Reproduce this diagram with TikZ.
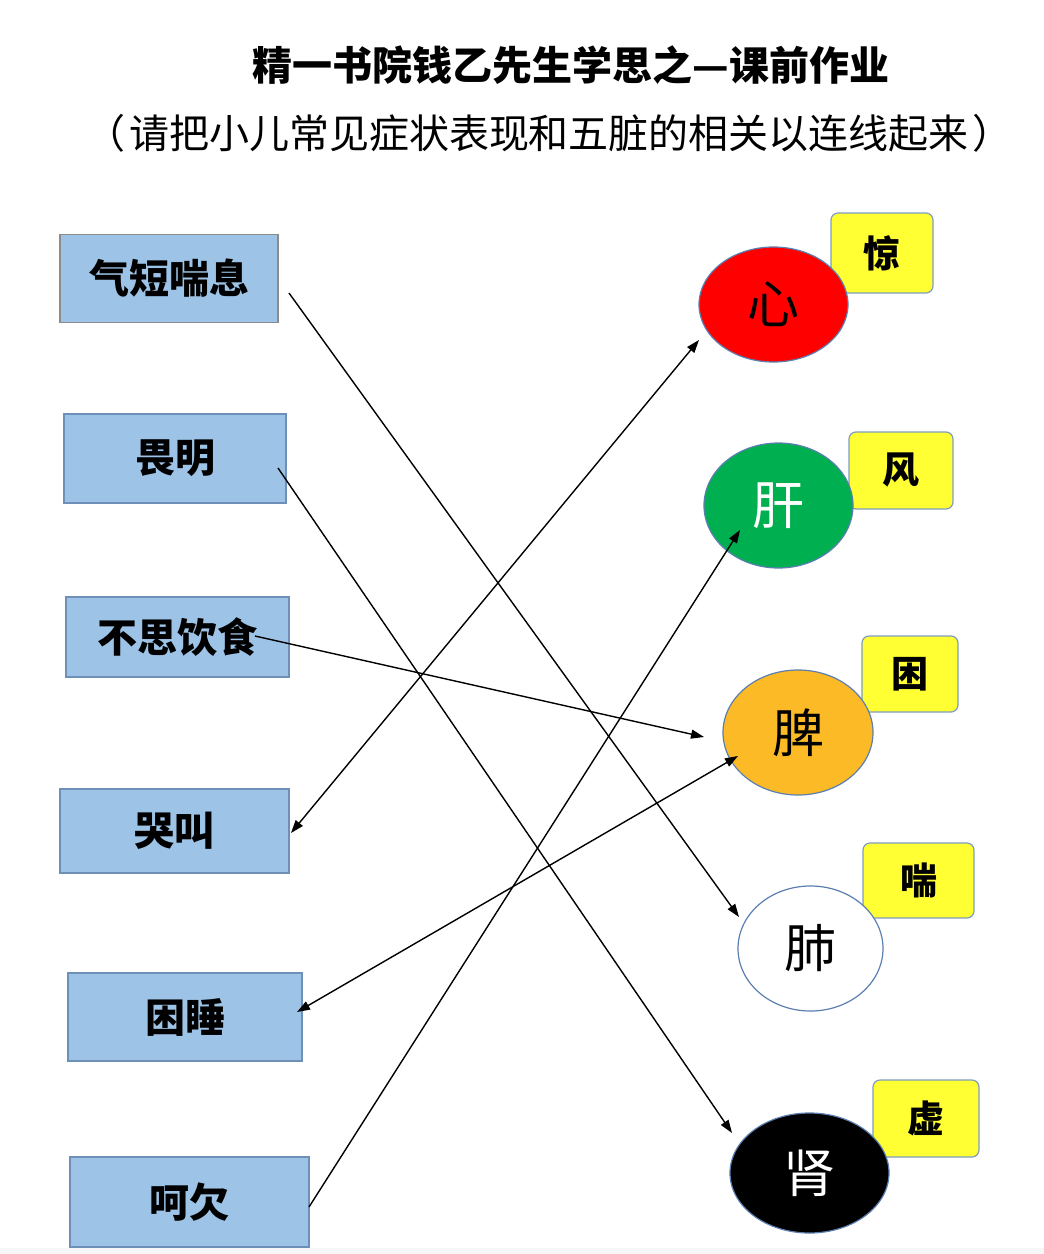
\documentclass[tikz,border=0pt]{standalone}
\usepackage{fontspec}
\newfontfamily\cjk{Noto Sans CJK SC}
\usetikzlibrary{shapes.geometric,arrows.meta}
\definecolor{boxblue}{HTML}{9DC3E6}
\definecolor{boxline}{HTML}{6E8FB8}
\definecolor{grayline}{HTML}{8C8C8C}
\definecolor{ylw}{HTML}{FFFF33}
\definecolor{ylwline}{HTML}{7E9DBF}
\definecolor{organred}{HTML}{FF0000}
\definecolor{organgreen}{HTML}{00B050}
\definecolor{organorange}{HTML}{FBBA26}
\definecolor{ellline}{HTML}{5B7FB0}
\tikzset{
  symbox/.style={draw=boxline, line width=1.2pt, fill=boxblue, inner sep=0pt,
    font=\cjk\bfseries\fontsize{40}{42}\selectfont},
  tagbox/.style={draw=ylwline, line width=1.2pt, fill=ylw, rounded corners=7pt, inner sep=0pt,
    font=\cjk\bfseries\fontsize{37}{39}\selectfont},
  organ/.style={ellipse, draw=ellline, line width=1.2pt, inner sep=0pt,
    font=\cjk\fontsize{52}{54}\selectfont},
  link/.style={black, line width=1.4pt, -{Triangle[length=13pt,width=9pt]}},
  link2/.style={black, line width=1.4pt, {Triangle[length=13pt,width=9pt]}-{Triangle[length=13pt,width=9pt]}}
}
\begin{document}
\begin{tikzpicture}[x=1pt,y=-1pt]
\useasboundingbox (0,0) rectangle (1044,1254);
\fill[white] (0,0) rectangle (1044,1254);
\fill[black!3] (0,1248) rectangle (1044,1254);
% titles
\node[font=\cjk\bfseries\fontsize{40}{42}\selectfont] (title) at (571,65) {精一书院钱乙先生学思之—课前作业};
\node[font=\cjk\fontsize{40}{42}\selectfont] (sub) at (549,133) {（\hspace{4pt}请把小儿常见症状表现和五脏的相关以连线起来\hspace{4pt}）};
% left boxes
\node[symbox, draw=grayline, minimum width=218pt, minimum height=88pt] (b1) at (169,278.5) {气短喘息};
\node[symbox, minimum width=222pt, minimum height=89pt] (b2) at (175,458.5) {畏明};
\node[symbox, minimum width=223pt, minimum height=80pt] (b3) at (177.5,637) {不思饮食};
\node[symbox, minimum width=229pt, minimum height=84pt] (b4) at (174.5,831) {哭叫};
\node[symbox, minimum width=234pt, minimum height=88pt] (b5) at (185,1017) {困睡};
\node[symbox, minimum width=239pt, minimum height=90pt] (b6) at (189.5,1202) {呵欠};
% tag boxes
\node[tagbox, minimum width=102pt, minimum height=80pt] (t1) at (882,253) {惊};
\node[tagbox, minimum width=104pt, minimum height=77pt] (t2) at (901,470.5) {风};
\node[tagbox, minimum width=96pt, minimum height=76pt] (t3) at (910,674) {困};
\node[tagbox, minimum width=111pt, minimum height=75pt] (t4) at (918.5,880.5) {喘};
\node[tagbox, minimum width=106pt, minimum height=77pt] (t5) at (926,1118.5) {虚};
% organs
\node[organ, fill=organred, minimum width=149pt, minimum height=115pt] (o1) at (773.5,304.5) {心};
\node[organ, fill=organgreen, text=white, minimum width=149pt, minimum height=125pt] (o2) at (778.5,505.5) {肝};
\node[organ, fill=organorange, minimum width=150pt, minimum height=125pt] (o3) at (798,732.5) {脾};
\node[organ, fill=white, minimum width=145pt, minimum height=125pt] (o4) at (810.5,948.5) {肺};
\node[organ, fill=black, text=white, minimum width=159pt, minimum height=120pt] (o5) at (809.5,1173) {肾};
% connector ends
\coordinate (s1) at (289,293);  \coordinate (e1) at (739,917);
\coordinate (s2) at (278,468);  \coordinate (e2) at (732,1133);
\coordinate (s3) at (255,636);  \coordinate (e3) at (704,737);
\coordinate (s4) at (699,340);  \coordinate (e4) at (291,833);
\coordinate (s5) at (738,756);  \coordinate (e5) at (297,1012);
\coordinate (s6) at (309,1207); \coordinate (e6) at (740,530);
\draw[link] (s1) -- (e1);
\draw[link] (s2) -- (e2);
\draw[link] (s3) -- (e3);
\draw[link2] (s4) -- (e4);
\draw[link2] (s5) -- (e5);
\draw[link] (s6) -- (e6);
\end{tikzpicture}
\end{document}
